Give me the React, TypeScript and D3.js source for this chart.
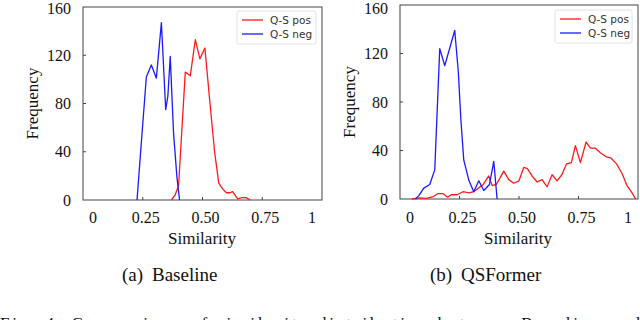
import React from "react";
import * as d3 from "d3";

// axis ticks
const xTicks = [0, 0.25, 0.5, 0.75, 1];
const xTickLabels = ["0", "0.25", "0.50", "0.75", "1"];
const yTicks = [0, 40, 80, 120, 160];

const seriesNames = ["Q-S pos", "Q-S neg"];
const seriesColors = ["#ff1a1a", "#1a1aff"];

// [similarity, frequency]
const baselinePos: [number, number][] = [
  [0.37, 0], [0.385, 4], [0.4, 12], [0.428, 106], [0.449, 103], [0.47, 133],
  [0.489, 117], [0.51, 126], [0.53, 83], [0.55, 41], [0.568, 14], [0.585, 9],
  [0.6, 6], [0.615, 6], [0.626, 7], [0.647, 1], [0.665, 2], [0.682, 2], [0.7, 0],
];
const baselineNeg: [number, number][] = [
  [0.226, 0], [0.245, 50], [0.265, 102], [0.286, 112], [0.307, 101], [0.328, 147],
  [0.346, 75], [0.355, 86], [0.365, 119], [0.379, 55], [0.393, 19], [0.404, 0],
];
const qsformerPos: [number, number][] = [
  [0.05, 0], [0.08, 1], [0.11, 0.5], [0.14, 2], [0.16, 4.5], [0.18, 4.5], [0.2, 1.5],
  [0.215, 3.5], [0.24, 3.5], [0.265, 6], [0.29, 5], [0.31, 6], [0.33, 9], [0.35, 12],
  [0.373, 19], [0.387, 11], [0.405, 12], [0.436, 23], [0.457, 16], [0.478, 13],
  [0.5, 15], [0.52, 26], [0.535, 25], [0.555, 19], [0.576, 14], [0.597, 16],
  [0.618, 10], [0.639, 20], [0.66, 15], [0.68, 20], [0.7, 29], [0.72, 30],
  [0.737, 44], [0.758, 30], [0.782, 47], [0.8, 42], [0.82, 42], [0.843, 38],
  [0.865, 35], [0.885, 34], [0.91, 29], [0.933, 21], [0.954, 11], [0.975, 5], [0.99, 0],
];
const qsformerNeg: [number, number][] = [
  [0.065, 0], [0.08, 3], [0.1, 9], [0.125, 12], [0.146, 24], [0.167, 124],
  [0.188, 110], [0.23, 139], [0.245, 105], [0.256, 65], [0.268, 32], [0.29, 15],
  [0.31, 6], [0.331, 15], [0.352, 7], [0.376, 12], [0.394, 31], [0.408, 0],
];

const serif = "'Liberation Serif', 'Times New Roman', serif";
const sans = "'DejaVu Sans', sans-serif";

const Panel = ({ series, left, right, top, bottom, labelX, ylabX, legend }) => {
  const x = d3.scaleLinear().domain([0, 1]).range([left, right]);
  const y = d3.scaleLinear().domain([0, 160]).range([bottom, top]);
  const line = d3
    .line<[number, number]>()
    .x((d) => x(d[0]))
    .y((d) => y(d[1]));

  return (
    <g>
      {/* frame */}
      <rect x={left} y={top} width={right - left} height={bottom - top} fill="white" stroke="#444" strokeWidth={1} />

      {/* inward ticks */}
      {xTicks.slice(1, -1).map((t) => (
        <line key={"xt" + t} x1={x(t)} x2={x(t)} y1={bottom} y2={bottom - 3} stroke="#444" />
      ))}
      {yTicks.slice(1, -1).map((t) => (
        <line key={"yt" + t} x1={left} x2={left + 3} y1={y(t)} y2={y(t)} stroke="#444" />
      ))}

      {/* series */}
      {series.map((s, i) => (
        <path key={i} d={line(s)} fill="none" stroke={seriesColors[i]} strokeWidth={1.3} strokeLinejoin="round" />
      ))}

      {/* tick labels */}
      {xTicks.map((t, i) => {
        const first = i === 0;
        const last = i === xTicks.length - 1;
        return (
          <text
            key={"xl" + t}
            x={x(t) + (first ? 6 : last ? -6 : 3)}
            y={217}
            dy="0.35em"
            textAnchor={first ? "start" : last ? "end" : "middle"}
            fontFamily={serif}
            fontSize={16}
            fill="#111"
          >
            {xTickLabels[i]}
          </text>
        );
      })}
      {yTicks.map((t) => (
        <text
          key={"yl" + t}
          x={left - 12}
          y={Math.max(y(t), 8.5)}
          dy="0.35em"
          textAnchor="end"
          fontFamily={serif}
          fontSize={16}
          fill="#111"
        >
          {t}
        </text>
      ))}

      {/* axis titles */}
      <text x={labelX} y={238} dy="0.35em" textAnchor="middle" fontFamily={serif} fontSize={17} fill="#111">
        Similarity
      </text>
      <text
        transform={`translate(${ylabX},${(top + bottom) / 2}) rotate(-90)`}
        dy="0.35em"
        textAnchor="middle"
        fontFamily={serif}
        fontSize={17}
        fill="#111"
      >
        Frequency
      </text>

      {/* legend */}
      <rect x={legend.x} y={legend.y} width={legend.w} height={33} rx={2} fill="white" stroke="#e2e2e2" />
      {seriesNames.map((name, i) => (
        <g key={name}>
          <line
            x1={legend.x + 5}
            x2={legend.x + 26}
            y1={legend.y + 9 + i * 14}
            y2={legend.y + 9 + i * 14}
            stroke={seriesColors[i]}
            strokeWidth={1.3}
          />
          <text x={legend.x + 33} y={legend.y + 9 + i * 14} dy="0.35em" fontFamily={sans} fontSize={10.5} fill="#333">
            {name}
          </text>
        </g>
      ))}
    </g>
  );
};

export default function App() {
  return (
    <svg
      width={640}
      height={320}
      style={{ position: "absolute", left: 0, top: 0, display: "block", background: "white" }}
    >
      <Panel
        series={[baselinePos, baselineNeg]}
        left={83}
        right={322}
        top={7}
        bottom={200}
        labelX={202}
        ylabX={32}
        legend={{ x: 237, y: 11, w: 79 }}
      />
      <Panel
        series={[qsformerPos, qsformerNeg]}
        left={400}
        right={638}
        top={5}
        bottom={199}
        labelX={518}
        ylabX={349}
        legend={{ x: 555, y: 10, w: 77 }}
      />

      {/* sub-captions */}
      <text x={122} y={281} fontFamily={serif} fontSize={19} fill="#111">
        (a)
        <tspan x={152}>Baseline</tspan>
      </text>
      <text x={430} y={281} fontFamily={serif} fontSize={19} fill="#111">
        (b)
        <tspan x={461}>QSFormer</tspan>
      </text>

      {/* figure caption, cut off at the bottom edge */}
      <text x={0} y={329} fontFamily={serif} fontSize={17} fill="#111" textLength={640} lengthAdjust="spacing">
        Fig. 4: Comparison of similarity distribution between Baseline and
      </text>
    </svg>
  );
}
